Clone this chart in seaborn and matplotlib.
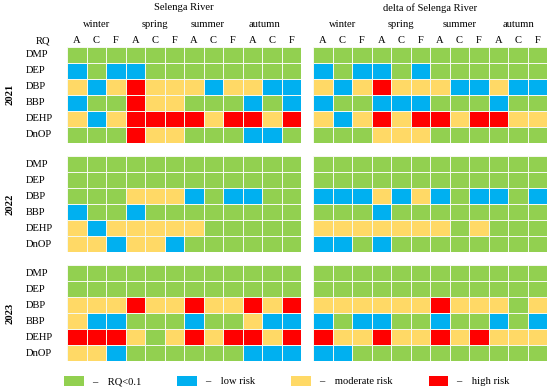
import matplotlib
matplotlib.use("Agg")
import matplotlib.pyplot as plt
import matplotlib.transforms as mtransforms
from matplotlib.colors import ListedColormap
from matplotlib.patches import Patch
import numpy as np
import pandas as pd
import seaborn as sns

# --------------------------------------------------
# Risk quotient (RQ) of phthalates, Selenga River
# --------------------------------------------------

compounds = ["DMP", "DEP", "DBP", "BBP", "DEHP", "DnOP"]
seasons = ["winter", "spring", "summer", "autumn"]
sites = ["A", "C", "F"]
years = ["2021", "2022", "2023"]
rivers = ["Selenga River", "delta of Selenga River"]
levels = ["RQ<0.1", "low risk", "moderate risk", "high risk"]
level_colors = ["#92D050", "#00B0F0", "#FFD966", "#FF0000"]

# G = RQ<0.1, B = low risk, Y = moderate risk, R = high risk
# one string per compound, 12 columns = 4 seasons x sites A, C, F
selenga_2021 = ["GGGGGGGGGGGG",
                "BGBBGGGGGGGG",
                "YBYRYYYBYYBB",
                "BGGRYYGGGBGB",
                "YBYRRRRYRRYR",
                "GGGRYYGGGBBG"]
selenga_2022 = ["GGGGGGGGGGGG",
                "GGGGGGGGGGGG",
                "GGGYYYBGBBGG",
                "BGGBGGGGGGGG",
                "YBYYYYYGGGGG",
                "YYBYYBGGGGGG"]
selenga_2023 = ["GGGGGGGGGGGG",
                "GGGGGGGGGGGG",
                "YYYRYYRYYRYR",
                "YBBGGGBGGYBB",
                "RRRYGYRYRRYR",
                "YYBGGGGGGBBB"]
delta_2021 = ["GGGGGGGGGGGG",
              "BGBBGBGGGGGG",
              "YBYRYYYBBYBB",
              "BGGBBBGGGBGG",
              "YBYRYRRYRRYY",
              "GGGYYYGGGGGG"]
delta_2022 = ["GGGGGGGGGGGG",
              "GGGGGGGGGGGG",
              "BBBYBYBGBBGB",
              "GGGBGGGGGGGG",
              "YYYYYYYGYGGG",
              "BBGBGGGGGGGG"]
delta_2023 = ["GGGGGGGGGGGG",
              "GGGGGGGGGGGG",
              "YYYYYYRYYYGY",
              "BGBBGGBGGBGB",
              "RYYRYYRYRYYY",
              "BBGGGGGGGGGG"]

codes = {"G": 0, "B": 1, "Y": 2, "R": 3}
blocks = [[selenga_2021, selenga_2022, selenga_2023],
          [delta_2021, delta_2022, delta_2023]]

columns = [f"{s} {c}" for s in seasons for c in sites]

# season label centres (column units) as placed in the original
season_pos = [[1.5, 4.5, 7.2, 10.1], [1.5, 4.5, 7.5, 10.5]]

# --------------------------------------------------
# Layout (pixels)
# --------------------------------------------------
W, H = 550, 391
panel_x = [67.3, 313.3]
panel_w = 234
block_y = [46.7, 156.2, 265.2]
block_h = 96

plt.rcParams["font.family"] = ["Liberation Serif", "DejaVu Serif"]
fs = 7.6

fig = plt.figure(figsize=(W / 100, H / 100), dpi=100)
cmap = ListedColormap(level_colors)

for p, river in enumerate(rivers):
    for b, year in enumerate(years):
        rows = blocks[p][b]
        df = pd.DataFrame([[codes[ch] for ch in r] for r in rows],
                          index=compounds, columns=columns)
        ax = fig.add_axes([panel_x[p] / W, 1 - (block_y[b] + block_h) / H,
                           panel_w / W, block_h / H])
        sns.heatmap(df, ax=ax, cmap=cmap, vmin=-0.5, vmax=3.5, cbar=False,
                    linewidths=0.55, linecolor="#f4f8ee",
                    xticklabels=False, yticklabels=False)
        ax.set_xlabel("")
        ax.set_ylabel("")
        ax.tick_params(length=0)

        # row labels and year only on the left panel
        if p == 0:
            tr = mtransforms.blended_transform_factory(fig.transFigure, ax.transData)
            for i, name in enumerate(compounds):
                ax.text(25.7 / W, i + 0.5, name, transform=tr, ha="left",
                        va="center", fontsize=fs)
            fig.text(10 / W, 1 - (block_y[b] + block_h / 2) / H, year,
                     rotation=90, ha="center", va="center",
                     fontsize=fs, fontweight="bold")

        # headers above the top block
        if b == 0:
            tr = mtransforms.blended_transform_factory(ax.transData, fig.transFigure)
            for j in range(len(columns)):
                ax.text(j + 0.5, 1 - 40.8 / H, sites[j % 3], transform=tr,
                        ha="center", va="center", fontsize=fs)
            for k, season in enumerate(seasons):
                ax.text(season_pos[p][k], 1 - 24.5 / H, season, transform=tr,
                        ha="center", va="center", fontsize=fs)
            ax.text(len(columns) / 2, 1 - 7.8 / H, river, transform=tr,
                    ha="center", va="center", fontsize=fs)

fig.text(43 / W, 1 - 40.8 / H, "RQ", ha="center", va="center", fontsize=fs)

# legend
handles = [Patch(facecolor=c, edgecolor="none") for c in level_colors]
labels = [f"–    {lv}" for lv in levels]
fig.legend(handles, labels, loc="center left",
           bbox_to_anchor=(64 / W, 1 - 381 / H), ncol=4, frameon=False,
           fontsize=fs, handlelength=1.85, handleheight=1.2,
           handletextpad=0.8, columnspacing=3.4, borderpad=0, borderaxespad=0)

plt.savefig("out.png", dpi=100)
